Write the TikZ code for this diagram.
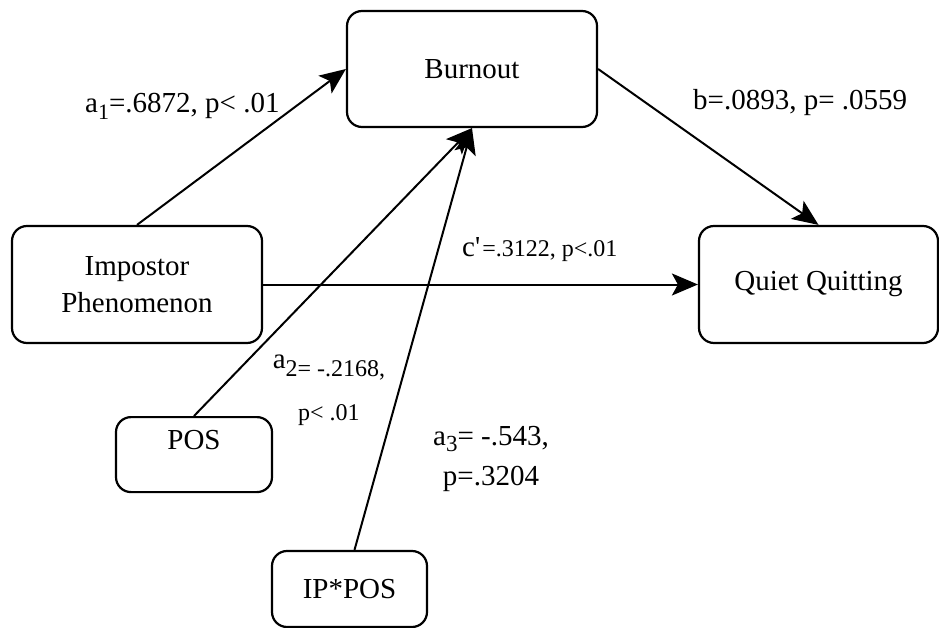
\documentclass[tikz,border=0pt]{standalone}
\usepackage{fontspec}
\setmainfont{Liberation Serif}
\usetikzlibrary{arrows.meta,calc}
% lowered, smaller text: size, drop, content
\newcommand\lowsub[3]{\raisebox{-#2pt}{\fontsize{#1}{#1}\selectfont #3}}
\begin{document}
\begin{tikzpicture}[x=1pt,y=-1pt,
  box/.style={draw, line width=2.2pt, rounded corners=15pt, inner sep=0pt,
    align=center, font=\fontsize{29}{37}\selectfont},
  link/.style={line width=2pt, -{Stealth[length=26pt,width=22pt,inset=6pt]}},
  lbl/.style={inner sep=0pt, font=\fontsize{29}{40}\selectfont}]
\useasboundingbox (0,0) rectangle (939,628);

% constructs
\node[box, minimum width=250pt, minimum height=116pt] (burn) at (472,69) {Burnout};
\node[box, minimum width=250pt, minimum height=117pt] (imp) at (137,284.5) {Impostor\\Phenomenon};
\node[box, minimum width=239pt, minimum height=117pt] (qq) at (818.5,284.5) {Quiet Quitting};
\node[box, minimum width=156pt, text height=32pt, text depth=43pt, anchor=north] (pos) at (194,416) {POS};
\node[box, minimum width=155pt, minimum height=76pt] (ipp) at (349.5,589) {IP*POS};

% paths
\draw[link] (imp.north) -- (burn.west);
\draw[link] (burn.east) -- (qq.north);
\draw[link] (imp.east) -- (qq.west);
\draw[link] (pos.north) -- (burn.south);
\draw[link] ($(ipp.north)+(5,0)$) -- (burn.south);

% coefficients
\node[lbl, anchor=base west] (la1) at (85,113) {a\lowsub{22}{7}{1}=.6872, p< .01};
\node[lbl, anchor=base west] (lb) at (693,110) {b=.0893, p= .0559};
\node[lbl, anchor=base west] (lc) at (462,257)
  {c\textquotesingle\kern2pt{\fontsize{24}{24}\selectfont =.3122, p<.01}};
\node[lbl, anchor=base, font=\fontsize{29}{52}\selectfont] (la2) at (329,368)
  {\begin{tabular}[t]{@{}c@{}}a\lowsub{24}{8}{2= -.2168,}\\
   {\fontsize{24}{24}\selectfont p< .01}\end{tabular}};
\node[lbl, anchor=base] (la3) at (491,445)
  {\begin{tabular}[t]{@{}c@{}}a\lowsub{23}{6}{3}= -.543,\\ p=.3204\end{tabular}};
\end{tikzpicture}
\end{document}
